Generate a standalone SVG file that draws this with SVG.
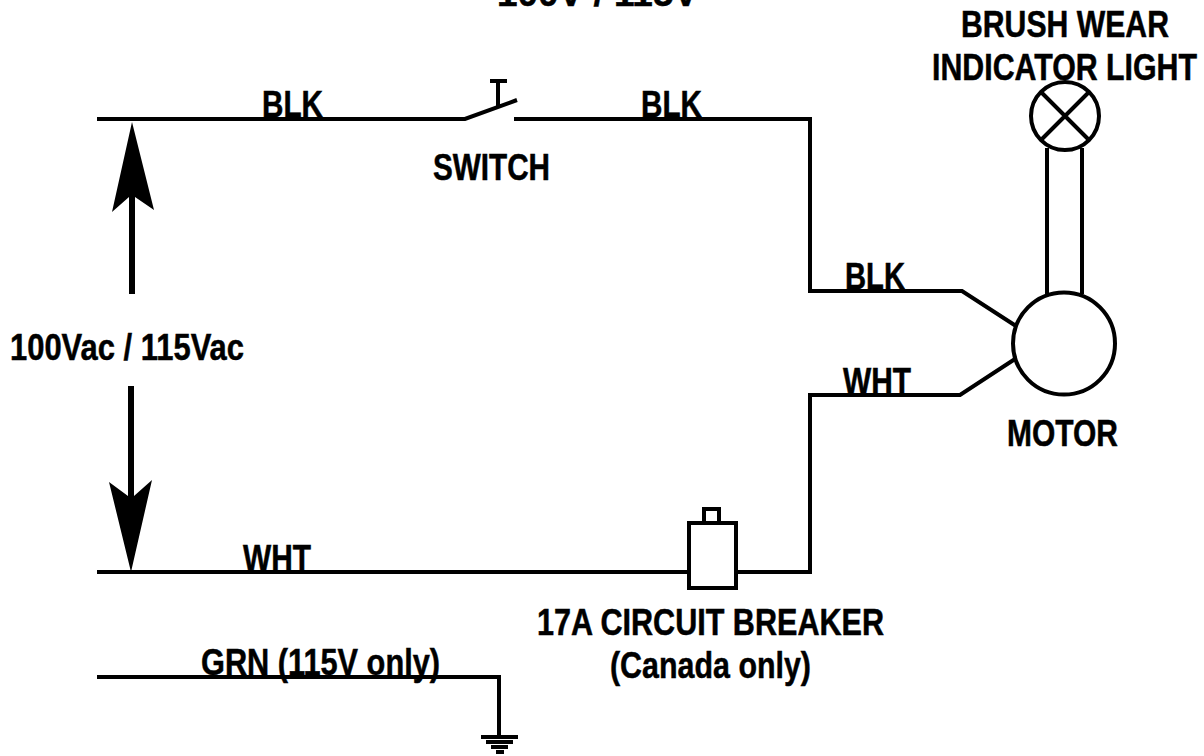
<svg xmlns="http://www.w3.org/2000/svg" width="1204" height="756" viewBox="0 0 1204 756">
<style>
.w{fill:none;stroke:#000;stroke-width:4;stroke-linejoin:miter}
.t{font-family:"Liberation Sans",Arial,sans-serif;font-weight:700;font-size:37px;fill:#000;stroke:#000;stroke-width:.5}
.a{fill:#000;stroke:none}
</style>
<rect width="1204" height="756" fill="#fff"/>
<g id="connectors">
<path class="w" d="M97 119H465L517 100"/>
<path class="w" d="M514 119H810V291H962L1016 326"/>
<path class="w" d="M1015 359L960 395H810V572H737"/>
<path class="w" d="M97 572H688"/>
<path class="w" d="M97 677H499V736"/>
<path class="w" d="M1047 148V294M1082 148V294"/>
<path class="w" d="M498 107V82M490 81H507"/>
</g>
<g id="voltage-arrows">
<path class="a" d="M129 294V197L112 212L132 122L154 210L135 197V294Z"/>
<path class="a" d="M128 386H134V496L152 480L131 572L109 482L128 496Z"/>
</g>
<g id="lamp">
<circle class="w" cx="1065" cy="116" r="34"/>
<path class="w" d="M1042 93L1088 139M1088 93L1042 139"/>
</g>
<g id="motor"><circle class="w" cx="1064" cy="343.500" r="51"/></g>
<g id="breaker">
<rect class="w" x="689" y="523" width="47" height="65"/>
<rect class="w" x="704" y="509" width="15" height="14"/>
</g>
<g id="ground">
<path class="w" d="M481 737H518"/>
<path class="w" d="M486 742H513"/>
<path class="w" d="M491 747H508"/>
<path class="w" d="M496 752H504"/>
</g>
<g id="labels">
<text class="t" x="497" y="6" textLength="201" lengthAdjust="spacingAndGlyphs">100V / 115V</text>
<text class="t" x="262" y="117" textLength="61" lengthAdjust="spacingAndGlyphs">BLK</text>
<text class="t" x="641" y="117" textLength="61" lengthAdjust="spacingAndGlyphs">BLK</text>
<text class="t" x="433" y="180" textLength="117" lengthAdjust="spacingAndGlyphs">SWITCH</text>
<text class="t" transform="translate(961 37) scale(.84 1)" textLength="247.600" lengthAdjust="spacingAndGlyphs">BRUSH WEAR</text>
<text class="t" transform="translate(932 80) scale(.811 1)" textLength="326.800" lengthAdjust="spacingAndGlyphs">INDICATOR LIGHT</text>
<text class="t" x="845" y="289" textLength="60" lengthAdjust="spacingAndGlyphs">BLK</text>
<text class="t" x="843" y="394" textLength="68" lengthAdjust="spacingAndGlyphs">WHT</text>
<text class="t" x="1007" y="446" textLength="111" lengthAdjust="spacingAndGlyphs">MOTOR</text>
<text class="t" x="10" y="360" textLength="234" lengthAdjust="spacingAndGlyphs">100Vac / 115Vac</text>
<text class="t" x="243" y="571" textLength="68" lengthAdjust="spacingAndGlyphs">WHT</text>
<text class="t" x="537" y="635" textLength="347" lengthAdjust="spacingAndGlyphs">17A CIRCUIT BREAKER</text>
<text class="t" x="610" y="678" textLength="201" lengthAdjust="spacingAndGlyphs">(Canada only)</text>
<text class="t" x="201" y="675" textLength="239" lengthAdjust="spacingAndGlyphs">GRN (115V only)</text>
</g>
</svg>
